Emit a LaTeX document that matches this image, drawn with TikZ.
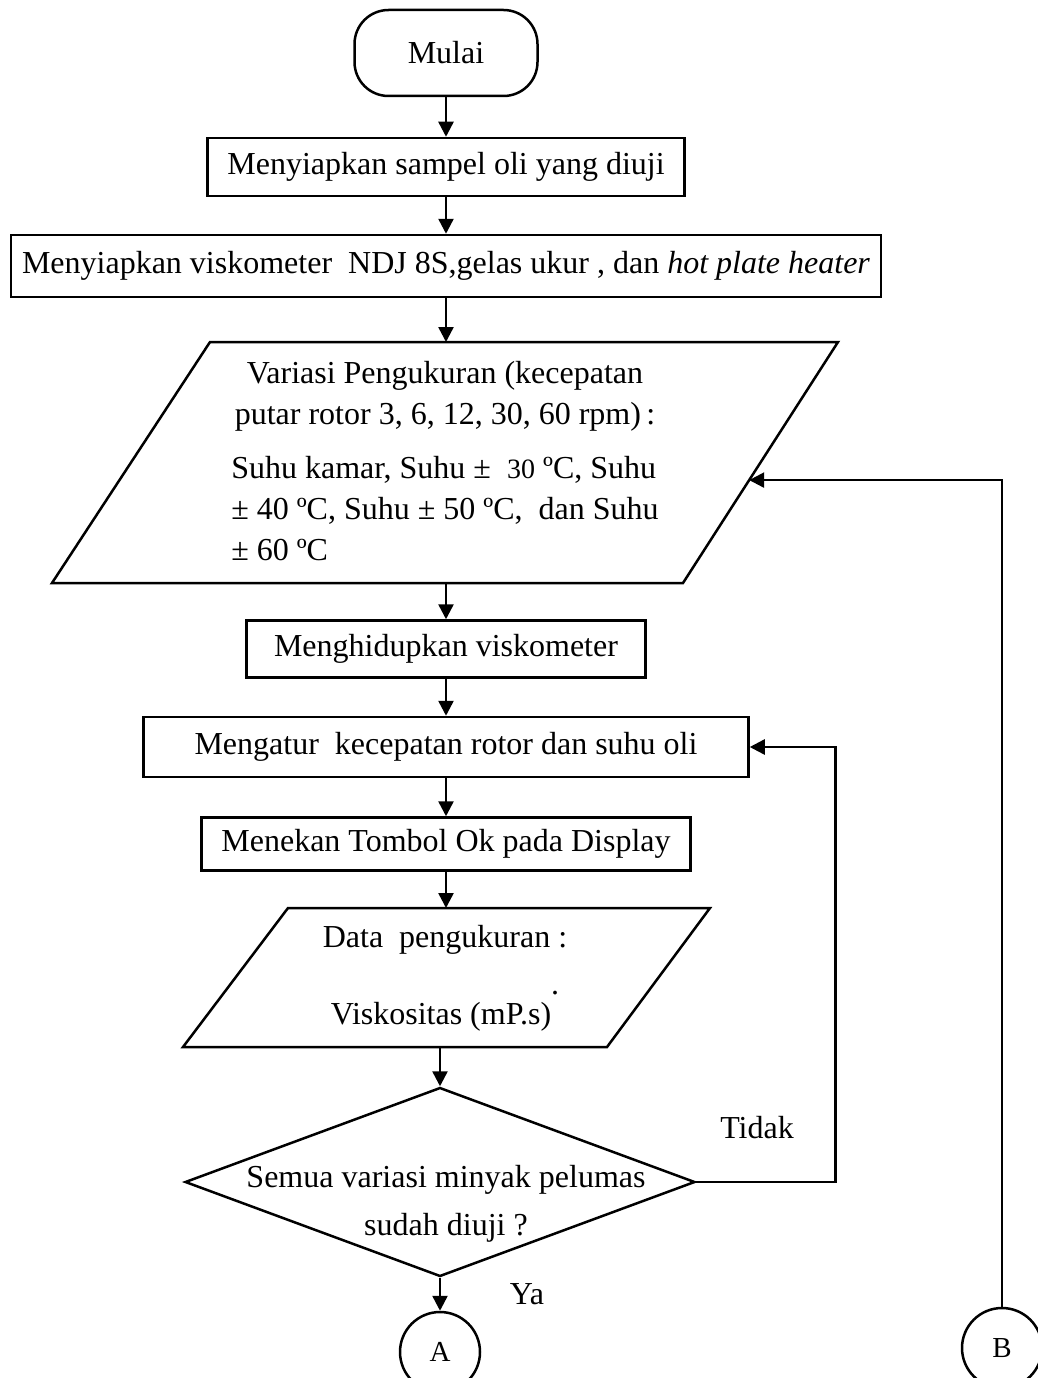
\documentclass[tikz,border=0pt]{standalone}
\usepackage{fontspec}
\setmainfont{Liberation Serif}
\usetikzlibrary{calc,positioning,arrows.meta,shapes.geometric}

\begin{document}
\begin{tikzpicture}[x=1pt,y=-1pt,line width=2.5pt,font=\fontsize{32}{41}\selectfont,
  stepbox/.style={draw,inner sep=0pt},
  decision/.style={draw,diamond,inner sep=0pt},
  connector/.style={draw,circle,minimum size=80pt,inner sep=0pt,font=\fontsize{29}{32}\selectfont},
  flow/.style={-{Triangle[length=15pt,width=15pt]}}]
\useasboundingbox (0,0) rectangle (1037,1378);
\node[stepbox,rounded corners=34pt,minimum width=183pt,minimum height=86pt] (mulai) at (446,53) {Mulai};
\node[stepbox,minimum width=477pt,minimum height=58pt] (sampel) at (446,167) {Menyiapkan sampel oli yang diuji};
\node[stepbox,minimum width=870pt,minimum height=62pt] (alat) at (446,266)
  {Menyiapkan viskometer\ \ NDJ 8S,gelas ukur , dan \textit{hot plate heater}};
% parallelogram: variasi pengukuran
\coordinate (variasi-tl) at (210,342);
\coordinate (variasi-tr) at (838,342);
\coordinate (variasi-br) at (683,583);
\coordinate (variasi-bl) at (52,583);
\draw (variasi-tl) -- (variasi-tr) -- (variasi-br) -- (variasi-bl) -- cycle;
\node[anchor=west,inner sep=0pt] (variasi) at (230,464) {\begin{tabular}{@{}l@{}}
  \multicolumn{1}{@{}c@{}}{Variasi Pengukuran (kecepatan}\\
  \multicolumn{1}{@{}c@{}}{putar rotor 3, 6, 12, 30, 60 rpm)\,:}\\[13pt]
  Suhu kamar, Suhu ±\ \ {\fontsize{28}{41}\selectfont 30} ºC, Suhu\\
  ± 40 ºC, Suhu ± 50 ºC,\ \ dan Suhu\\
  ± 60 ºC
\end{tabular}};
\node[stepbox,minimum width=399pt,minimum height=57pt] (hidup) at (446,649) {Menghidupkan viskometer};
\node[stepbox,minimum width=605pt,minimum height=60pt] (atur) at (446,747) {Mengatur\ \ kecepatan rotor dan suhu oli};
\node[stepbox,minimum width=489pt,minimum height=53pt] (tekan) at (446,844) {Menekan Tombol Ok pada Display};
% parallelogram: data pengukuran
\coordinate (data-tl) at (288,908);
\coordinate (data-tr) at (710,908);
\coordinate (data-br) at (607,1047);
\coordinate (data-bl) at (183,1047);
\draw (data-tl) -- (data-tr) -- (data-br) -- (data-bl) -- cycle;
\node[inner sep=0pt] (data) at (445,978) {\begin{tabular}{@{}c@{}}
  Data\ \ pengukuran :\\[31pt]
  Viskositas (mP.s)\raisebox{30pt}{.}
\end{tabular}};
\node[decision,minimum width=510pt,minimum height=189pt] (cek) at (440,1182) {};
\node[inner sep=0pt] (cek-txt) at (446,1203) {\begin{tabular}{@{}c@{}}
  Semua variasi minyak pelumas\\[7pt]
  sudah diuji ?
\end{tabular}};
\node[connector] (A) at (440,1352) {A};
\node[connector] (B) at (1002,1348) {B};
\node[anchor=base] (tidak) at (757,1138) {Tidak};
\node[anchor=base] (ya) at (527,1304) {Ya};
\coordinate (masuk) at ($(variasi-br)!0.427!(variasi-tr)$);
\draw[flow] (mulai) -- (sampel);
\draw[flow] (sampel) -- (alat);
\draw[flow] (alat.south) -- (alat.south |- variasi-tl);
\draw[flow] (hidup.north |- variasi-bl) -- (hidup);
\draw[flow] (hidup) -- (atur);
\draw[flow] (atur) -- (tekan);
\draw[flow] (tekan.south) -- (tekan.south |- data-tl);
\draw[flow] (cek.north |- data-bl) -- (cek);
\draw[flow] (cek) -- (A);
\draw[flow] (cek.east) -- ++(139,0) |- (atur.east);
\draw[flow] (B) |- (masuk);
\end{tikzpicture}
\end{document}
